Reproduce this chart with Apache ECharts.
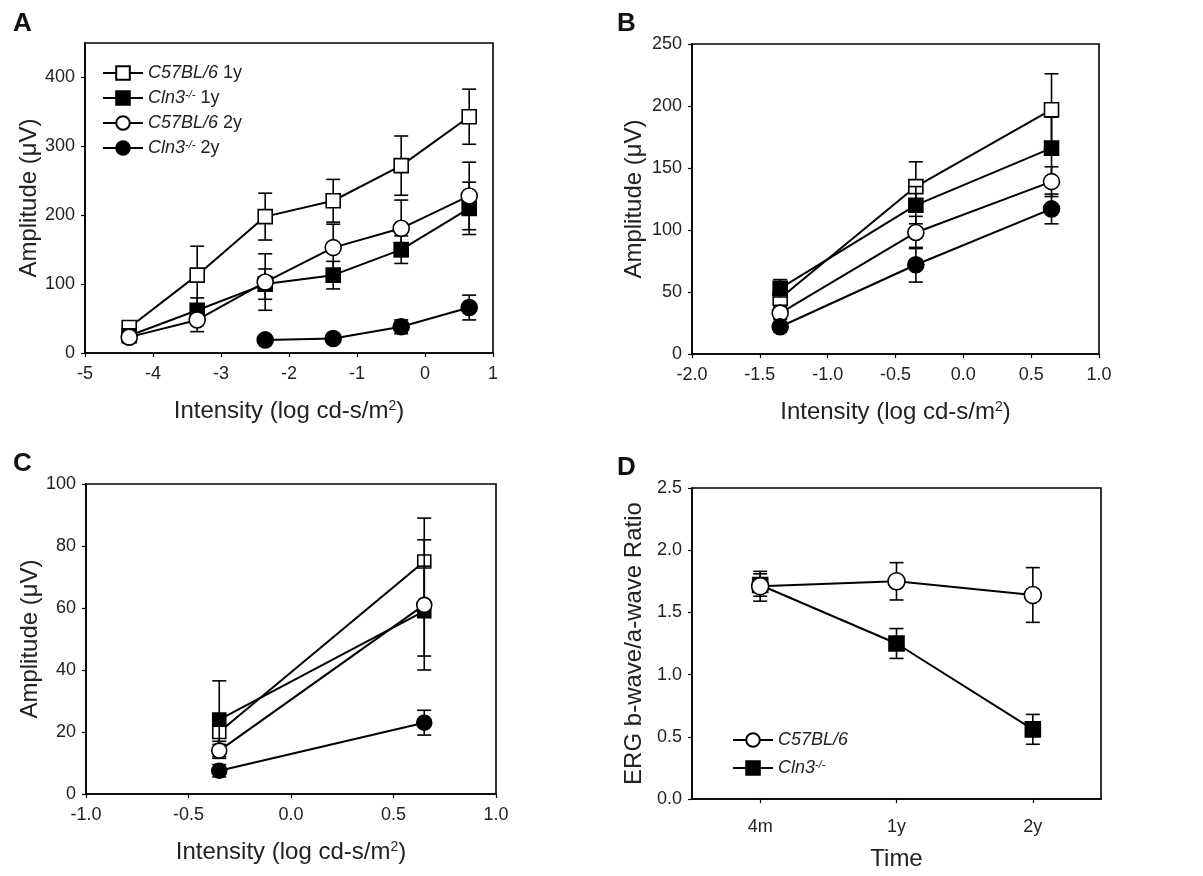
<!DOCTYPE html>
<html>
<head>
<meta charset="utf-8">
<title>ERG amplitudes</title>
<script src="https://cdn.jsdelivr.net/npm/echarts@6/dist/echarts.min.js"></script>
<style>
  html, body { margin: 0; padding: 0; background: #fff; }
  #chart { width: 1203px; height: 876px; }
</style>
</head>
<body>
<div id="chart"></div>
<script>
// panel A: scotopic b-wave, all intensities
const xA = [-4.35, -3.35, -2.35, -1.35, -0.35, 0.65]
const wt1yA = [37, 113, 198, 221, 272, 343]
const wt1yErrA = [5, 42, 34, 31, 43, 40]
const ko1yA = [25, 62, 100, 113, 150, 210]
const ko1yErrA = [4, 18, 22, 20, 20, 38]
const wt2yA = [23, 48, 103, 153, 181, 228]
const wt2yErrA = [4, 17, 41, 34, 41, 49]
const ko2yA = [null, null, 19, 21, 38, 66]
const ko2yErrA = [0, 0, 3, 3, 10, 18]

// panel B
const xB = [-1.35, -0.35, 0.65]
const wt1yB = [45, 135, 197]
const wt1yErrB = [8, 20, 29]
const ko1yB = [53, 120, 166]
const ko1yErrB = [7, 15, 25]
const wt2yB = [33, 98, 139]
const wt2yErrB = [5, 13, 12]
const ko2yB = [22, 72, 117]
const ko2yErrB = [4, 14, 12]

// panel C
const xC = [-0.35, 0.65]
const wt1yC = [20, 75]
const wt1yErrC = [3, 14]
const ko1yC = [24, 59]
const ko1yErrC = [12.5, 14.5]
const wt2yC = [14, 61]
const wt2yErrC = [2, 21]
const ko2yC = [7.5, 23]
const ko2yErrC = [2, 4]

// panel D: b/a ratio over time
const timeLabels = ['4m', '1y', '2y']
const wtRatio = [1.71, 1.75, 1.64]
const wtRatioErr = [0.12, 0.15, 0.22]
const koRatio = [1.72, 1.25, 0.56]
const koRatioErr = [0.09, 0.12, 0.12]

const FONT = "'Liberation Sans', Arial, sans-serif"
const NAMES = ['C57BL/6 1y', 'Cln3-/- 1y', 'C57BL/6 2y', 'Cln3-/- 2y']
const SYMBOLS = ['rect', 'rect', 'circle', 'circle']
const FILLED = [false, true, false, true]

const chart = echarts.init(document.getElementById('chart'))

// error bar: vertical stroke + two caps
function errRender(params, api) {
  const x = api.value(0)
  const lo = api.coord([x, api.value(1)])
  const hi = api.coord([x, api.value(2)])
  const w = 7
  const style = { stroke: '#000', lineWidth: 1.6 }
  return {
    type: 'group',
    children: [
      { type: 'line', shape: { x1: lo[0], y1: lo[1], x2: hi[0], y2: hi[1] }, style },
      { type: 'line', shape: { x1: lo[0] - w, y1: lo[1], x2: lo[0] + w, y2: lo[1] }, style },
      { type: 'line', shape: { x1: hi[0] - w, y1: hi[1], x2: hi[0] + w, y2: hi[1] }, style }
    ]
  }
}

function lineSeries(name, idx, xs, ys, k, size) {
  const data = []
  xs.forEach((x, i) => { if (ys[i] != null) data.push([x, ys[i]]) })
  return {
    name: name,
    type: 'line',
    xAxisIndex: idx,
    yAxisIndex: idx,
    data: data,
    symbol: SYMBOLS[k],
    symbolSize: SYMBOLS[k] === 'rect' ? size - 2 : size,
    showSymbol: true,
    lineStyle: { color: '#000', width: 2 },
    itemStyle: { color: FILLED[k] ? '#000' : '#fff', borderColor: '#000', borderWidth: 1.6 },
    z: 11 + 2 * k,
    animation: false
  }
}

function errSeries(idx, xs, ys, es, k) {
  const data = []
  xs.forEach((x, i) => { if (ys[i] != null) data.push([x, ys[i] - es[i], ys[i] + es[i]]) })
  return {
    type: 'custom',
    xAxisIndex: idx,
    yAxisIndex: idx,
    data: data,
    encode: { x: 0, y: [1, 2] },
    renderItem: errRender,
    z: 10 + 2 * k,
    silent: true,
    animation: false
  }
}

function panelSeries(idx, prefix, xs, sets, size) {
  const out = []
  sets.forEach((s, k) => {
    out.push(errSeries(idx, xs, s[0], s[1], k))
    out.push(lineSeries(prefix + NAMES[k], idx, xs, s[0], k, size))
  })
  return out
}

const tickLabel = { color: '#222', fontSize: 18, fontFamily: FONT }
const axisLine = { show: true, onZero: false, lineStyle: { color: '#000', width: 1.6 } }
const axisTick = { show: true, inside: false, length: 4, lineStyle: { color: '#000', width: 1.2 } }
const nameStyle = {
  color: '#222', fontSize: 24, fontFamily: FONT,
  rich: { sup: { fontSize: 14, fontFamily: FONT, color: '#222', verticalAlign: 'top', lineHeight: 14 } }
}
const xName = 'Intensity (log cd-s/m{sup|2})'

function valueX(idx, min, max, interval, digits) {
  return {
    type: 'value', gridIndex: idx, min, max, interval,
    splitLine: { show: false }, axisLine, axisTick,
    axisLabel: { ...tickLabel, margin: 12, formatter: v => v.toFixed(digits) },
    name: xName, nameLocation: 'middle', nameGap: 46, nameTextStyle: nameStyle
  }
}

function valueY(idx, min, max, interval, digits, name, gap, labels) {
  const y = {
    type: 'value', gridIndex: idx, min, max, interval,
    splitLine: { show: false }, axisLine, axisTick: { ...axisTick },
    axisLabel: { ...tickLabel, margin: 10, formatter: v => Number(v).toFixed(digits) },
    name, nameLocation: 'middle', nameGap: gap, nameTextStyle: nameStyle
  }
  if (labels) {
    y.axisLabel.customValues = labels
    y.axisTick.customValues = labels
  }
  return y
}

const legendRich = {
  i: { fontStyle: 'italic', fontSize: 18, fontFamily: FONT, color: '#222' },
  n: { fontSize: 18, fontFamily: FONT, color: '#222' },
  sup: { fontStyle: 'italic', fontSize: 11, fontFamily: FONT, color: '#222', verticalAlign: 'top', lineHeight: 11 }
}
function legendFmt(name) {
  const parts = name.split(' ')
  const strain = parts[0].startsWith('Cln3') ? '{i|Cln3}{sup|-/-}' : '{i|C57BL/6}'
  return parts.length > 1 ? strain + '{n| ' + parts[1] + '}' : strain
}

const option = {
  backgroundColor: '#fff',
  animation: false,
  title: [
    { text: 'A', left: 8, top: 6 },
    { text: 'B', left: 612, top: 6 },
    { text: 'C', left: 8, top: 446 },
    { text: 'D', left: 612, top: 450 }
  ].map(t => ({ ...t, textStyle: { fontSize: 26, fontWeight: 'bold', color: '#111', fontFamily: FONT } })),
  grid: [
    { left: 85, top: 43, width: 408, height: 310 },
    { left: 692, top: 44, width: 407, height: 310 },
    { left: 86, top: 484, width: 410, height: 310 },
    { left: 692, top: 488, width: 409, height: 311 }
  ].map(g => ({ ...g, show: true, borderColor: '#000', borderWidth: 1.6, backgroundColor: 'transparent' })),
  legend: [
    {
      data: NAMES, orient: 'vertical', left: 97, top: 59,
      itemWidth: 40, itemHeight: 17, itemGap: 7,
      formatter: legendFmt, textStyle: { rich: legendRich, fontSize: 18, fontFamily: FONT },
      selectedMode: false
    },
    {
      data: ['C57BL/6', 'Cln3-/-'], orient: 'vertical', left: 727, top: 726,
      itemWidth: 40, itemHeight: 17, itemGap: 10,
      formatter: legendFmt, textStyle: { rich: legendRich, fontSize: 18, fontFamily: FONT },
      selectedMode: false
    }
  ],
  xAxis: [
    valueX(0, -5, 1, 1, 0),
    valueX(1, -2, 1, 0.5, 1),
    valueX(2, -1, 1, 0.5, 1),
    {
      type: 'category', gridIndex: 3, data: timeLabels, boundaryGap: true,
      axisLine, axisTick: { ...axisTick, alignWithLabel: true },
      axisLabel: { ...tickLabel, margin: 19 },
      name: 'Time', nameLocation: 'middle', nameGap: 48, nameTextStyle: nameStyle
    }
  ],
  yAxis: [
    valueY(0, 0, 450, 100, 0, 'Amplitude (μV)', 44, [0, 100, 200, 300, 400]),
    valueY(1, 0, 250, 50, 0, 'Amplitude (μV)', 46),
    valueY(2, 0, 100, 20, 0, 'Amplitude (μV)', 44),
    valueY(3, 0, 2.5, 0.5, 1, 'ERG b-wave/a-wave Ratio', 46)
  ],
  series: [
    ...panelSeries(0, '', xA, [[wt1yA, wt1yErrA], [ko1yA, ko1yErrA], [wt2yA, wt2yErrA], [ko2yA, ko2yErrA]], 16),
    ...panelSeries(1, 'B ', xB, [[wt1yB, wt1yErrB], [ko1yB, ko1yErrB], [wt2yB, wt2yErrB], [ko2yB, ko2yErrB]], 16),
    ...panelSeries(2, 'C ', xC, [[wt1yC, wt1yErrC], [ko1yC, ko1yErrC], [wt2yC, wt2yErrC], [ko2yC, ko2yErrC]], 15)
  ]
}

// panel D: category axis, open circles vs filled squares
const xD = timeLabels.map((t, i) => i)
const dSets = [[wtRatio, wtRatioErr, 2, 'C57BL/6'], [koRatio, koRatioErr, 1, 'Cln3-/-']]
dSets.forEach(([vals, errs, k, name]) => {
  option.series.push(errSeries(3, xD, vals, errs, k))
  const s = lineSeries(name, 3, xD, vals, k, 17)
  s.data = vals.slice()
  option.series.push(s)
})

chart.setOption(option)
</script>
</body>
</html>
